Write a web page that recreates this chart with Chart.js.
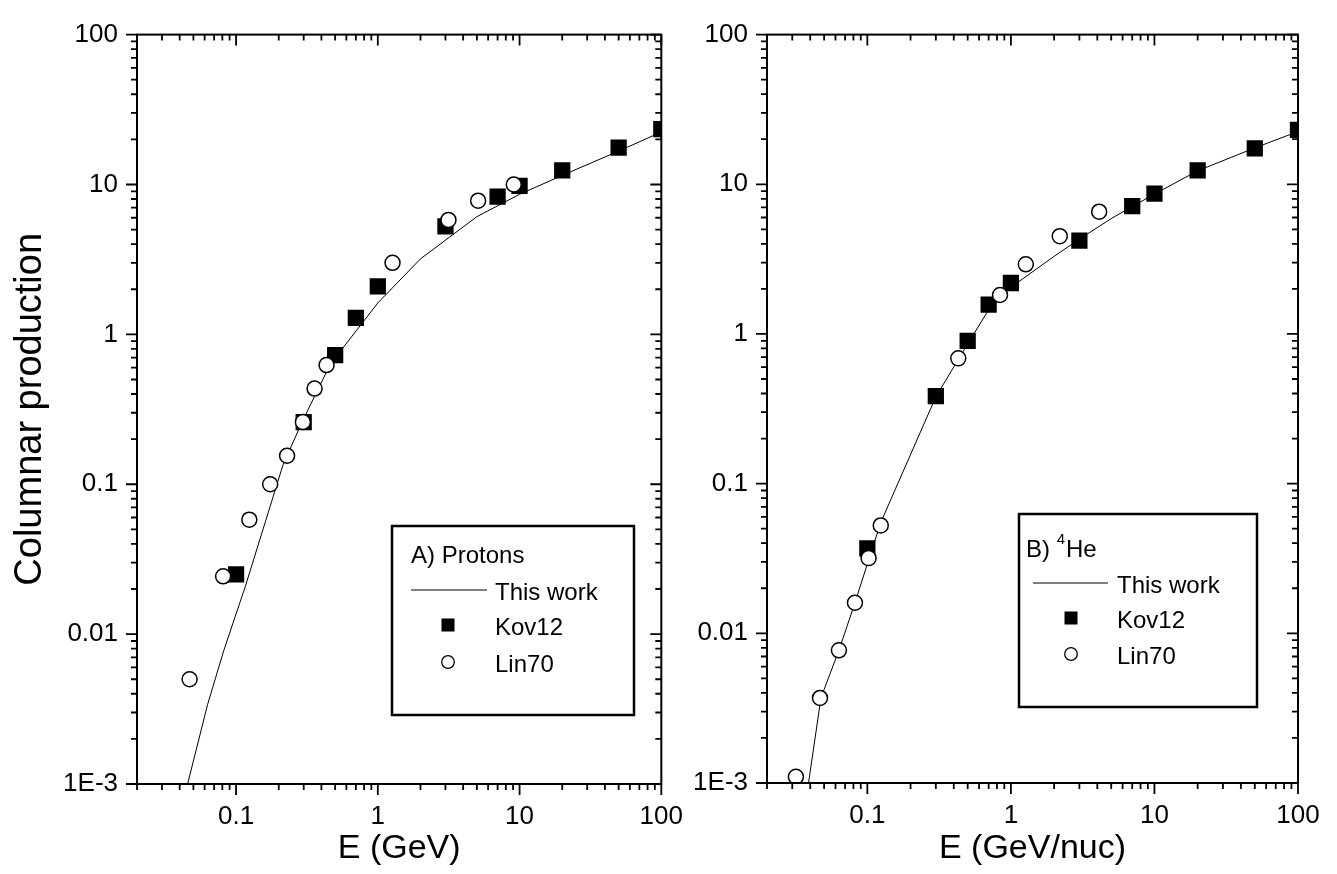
<!DOCTYPE html>
<html>
<head>
<meta charset="utf-8">
<title>Columnar production</title>
<script src="https://cdn.jsdelivr.net/npm/chart.js@4.4.1/dist/chart.umd.min.js"></script>
<style>
  html, body { margin: 0; padding: 0; background: #fff; }
  #wrap { position: relative; width: 1337px; height: 874px; overflow: hidden; }
  canvas { position: absolute; top: 0; }
  #left { left: 0; }
  #right { left: 670px; }
</style>
</head>
<body>
<div id="wrap">
  <canvas id="left" width="700" height="874"></canvas>
  <canvas id="right" width="667" height="874"></canvas>
</div>
<script>
// values
const xTickValues = [0.1, 1, 10, 100];
const xTickLabels = ['0.1', '1', '10', '100'];
const yTickValues = [0.001, 0.01, 0.1, 1, 10, 100];
const yTickLabels = ['1E-3', '0.01', '0.1', '1', '10', '100'];

// A) protons
const pModelE = [0.04, 0.0455, 0.063, 0.082, 0.116, 0.214, 0.292, 0.463, 1, 2, 5, 10, 20, 50, 100];
const pModelV = [0.0006, 0.001, 0.0034, 0.0078, 0.0207, 0.134, 0.26, 0.634, 1.62, 3.19, 6.1, 8.6, 11.5, 16.7, 22.4];
const pKovE = [0.1, 0.3, 0.5, 0.7, 1, 3, 7, 10, 20, 50, 100];
const pKovV = [0.025, 0.26, 0.726, 1.29, 2.09, 5.25, 8.3, 9.8, 12.4, 17.6, 23.4];
const pLinE = [0.047, 0.081, 0.124, 0.174, 0.229, 0.296, 0.358, 0.435, 1.27, 3.15, 5.1, 9.1];
const pLinV = [0.005, 0.0243, 0.058, 0.1, 0.155, 0.26, 0.435, 0.624, 3.0, 5.8, 7.8, 10];

// B) 4He
const hModelE = [0.03, 0.0475, 0.0634, 0.082, 0.1, 0.124, 0.3, 0.5, 0.7, 1, 2, 3, 5, 7, 10, 20, 50, 100];
const hModelV = [0.00018, 0.0037, 0.0077, 0.016, 0.029, 0.055, 0.38, 0.86, 1.45, 2.05, 3.3, 4.3, 5.9, 7.1, 8.6, 12.3, 17.5, 22.5];
const hKovE = [0.1, 0.3, 0.5, 0.7, 1, 3, 7, 10, 20, 50, 100];
const hKovV = [0.037, 0.385, 0.9, 1.57, 2.19, 4.2, 7.15, 8.65, 12.4, 17.4, 23.1];
const hLinE = [0.0318, 0.0468, 0.0634, 0.082, 0.102, 0.124, 0.43, 0.84, 1.27, 2.19, 4.12];
const hLinV = [0.0011, 0.0037, 0.0077, 0.016, 0.0318, 0.0526, 0.687, 1.82, 2.92, 4.5, 6.56];

const FONT = "'Liberation Sans', Arial, sans-serif";
Chart.defaults.font.family = FONT;
Chart.defaults.color = '#000';

function toXY(xs, ys) {
    return xs.map((x, i) => ({ x: x, y: ys[i] }));
}

function labelFor(v, values, labels) {
    const i = values.findIndex(t => Math.abs(Math.log10(t) - Math.log10(v)) < 1e-6);
    return i < 0 ? '' : labels[i];
}

// all 1..9 x 10^n values inside [min, max]
function logTicks(min, max) {
    const out = [];
    for (let e = Math.floor(Math.log10(min)); e <= Math.ceil(Math.log10(max)); e++) {
        for (let k = 1; k <= 9; k++) {
            const v = k * Math.pow(10, e);
            if (v >= min * 0.999 && v <= max * 1.001) out.push({ v: v, major: k === 1 });
        }
    }
    return out;
}

// frame with ticks out on left/bottom, in on top/right
const framePlugin = {
    id: 'frame',
    afterDatasetsDraw(chart) {
        const { ctx, chartArea: a } = chart;
        const x = chart.scales.x, y = chart.scales.y;
        ctx.save();
        ctx.strokeStyle = '#000';
        ctx.lineWidth = 1.8;
        ctx.beginPath();
        logTicks(x.min, x.max).forEach(t => {
            const px = x.getPixelForValue(t.v);
            const len = t.major ? 11 : 6;
            ctx.moveTo(px, a.bottom); ctx.lineTo(px, a.bottom + len);
            ctx.moveTo(px, a.top); ctx.lineTo(px, a.top + len);
        });
        logTicks(y.min, y.max).forEach(t => {
            const py = y.getPixelForValue(t.v);
            const len = t.major ? 11 : 6;
            ctx.moveTo(a.left, py); ctx.lineTo(a.left - len, py);
            ctx.moveTo(a.right, py); ctx.lineTo(a.right - len, py);
        });
        ctx.stroke();
        ctx.lineWidth = 2;
        ctx.strokeRect(a.left, a.top, a.right - a.left, a.bottom - a.top);
        ctx.restore();
    }
};

// boxed legend like the original
function legendPlugin(L) {
    return {
        id: 'boxLegend',
        afterDraw(chart) {
            const ctx = chart.ctx;
            const ds = chart.data.datasets;
            ctx.save();
            ctx.strokeStyle = '#000';
            ctx.fillStyle = '#000';
            ctx.lineWidth = 2.5;
            ctx.strokeRect(L.x, L.y, L.w, L.h);
            ctx.textBaseline = 'alphabetic';
            ctx.textAlign = 'left';
            ctx.font = '24px ' + FONT;
            // title, with optional superscript
            let tx = L.titleX;
            ctx.fillText(L.title, tx, L.titleY);
            if (L.sup) {
                tx += ctx.measureText(L.title + ' ').width;
                ctx.font = '15px ' + FONT;
                ctx.fillText(L.sup, tx, L.titleY - 13);
                tx += ctx.measureText(L.sup).width + 1;
                ctx.font = '24px ' + FONT;
                ctx.fillText(L.after, tx, L.titleY);
            }
            // rows: line, squares, circles
            const rows = [ds[2], ds[1], ds[0]];
            rows.forEach((d, i) => {
                const by = L.rowY[i];
                const cy = by - 10;
                if (d.showLine) {
                    ctx.lineWidth = 1;
                    ctx.beginPath();
                    ctx.moveTo(L.lineX0, cy);
                    ctx.lineTo(L.lineX1, cy);
                    ctx.stroke();
                } else if (d.pointStyle === 'rect') {
                    ctx.fillRect(L.symX - 6.5, cy - 6.5, 13, 13);
                } else {
                    ctx.beginPath();
                    ctx.arc(L.symX, cy, 6.3, 0, Math.PI * 2);
                    ctx.fillStyle = '#fff';
                    ctx.fill();
                    ctx.lineWidth = 1.3;
                    ctx.stroke();
                    ctx.fillStyle = '#000';
                }
                ctx.fillText(d.label, L.textX, by);
            });
            ctx.restore();
        }
    };
}

function makeChart(id, cfg) {
    return new Chart(document.getElementById(id), {
        type: 'scatter',
        data: {
            datasets: [
                {
                    label: 'Lin70',
                    data: toXY(cfg.linE, cfg.linV),
                    pointStyle: 'circle',
                    pointRadius: 7.5,
                    pointBackgroundColor: '#fff',
                    pointBorderColor: '#000',
                    pointBorderWidth: 1.5,
                    clip: 0
                },
                {
                    label: 'Kov12',
                    data: toXY(cfg.kovE, cfg.kovV),
                    pointStyle: 'rect',
                    pointRadius: 11.5,
                    pointBackgroundColor: '#000',
                    pointBorderColor: '#000',
                    pointBorderWidth: 0,
                    clip: 0
                },
                {
                    label: 'This work',
                    data: toXY(cfg.modelE, cfg.modelV),
                    showLine: true,
                    borderColor: '#000',
                    borderWidth: 1,
                    pointRadius: 0,
                    tension: 0,
                    clip: 0
                }
            ]
        },
        options: {
            responsive: false,
            animation: false,
            devicePixelRatio: 1,
            events: [],
            layout: { padding: cfg.padding },
            plugins: { legend: { display: false }, tooltip: { enabled: false } },
            scales: {
                x: {
                    type: 'logarithmic',
                    min: 0.02,
                    max: 100,
                    grid: { display: false, drawTicks: false },
                    border: { display: false },
                    afterBuildTicks: s => { s.ticks = xTickValues.map(v => ({ value: v })); },
                    afterFit: s => { s.height = cfg.xAxisHeight; },
                    ticks: {
                        autoSkip: false,
                        maxRotation: 0,
                        padding: 17,
                        color: '#000',
                        font: { size: 26 },
                        callback: v => labelFor(v, xTickValues, xTickLabels)
                    },
                    title: {
                        display: true,
                        text: cfg.xTitle,
                        color: '#000',
                        font: { size: 34 },
                        padding: { top: 0, bottom: 5 }
                    }
                },
                y: {
                    type: 'logarithmic',
                    min: 0.001,
                    max: 100,
                    grid: { display: false, drawTicks: false },
                    border: { display: false },
                    afterBuildTicks: s => { s.ticks = yTickValues.map(v => ({ value: v })); },
                    afterFit: s => { s.width = cfg.yAxisWidth; },
                    ticks: {
                        autoSkip: false,
                        padding: 19,
                        color: '#000',
                        font: { size: 26 },
                        callback: v => labelFor(v, yTickValues, yTickLabels)
                    },
                    title: {
                        display: !!cfg.yTitle,
                        text: cfg.yTitle || '',
                        color: '#000',
                        font: { size: 38 },
                        padding: { top: 8, bottom: 0 }
                    }
                }
            }
        },
        plugins: [framePlugin, legendPlugin(cfg.legend)]
    });
}

makeChart('left', {
    modelE: pModelE, modelV: pModelV,
    kovE: pKovE, kovV: pKovV,
    linE: pLinE, linV: pLinV,
    xTitle: 'E (GeV)',
    yTitle: 'Columnar production',
    padding: { left: 0, top: 22, right: 32, bottom: 0 },
    yAxisWidth: 137,
    xAxisHeight: 90,
    legend: {
        x: 392, y: 526, w: 242, h: 189,
        title: 'A) Protons', titleX: 411, titleY: 563,
        lineX0: 411, lineX1: 487, textX: 495, symX: 448,
        rowY: [600, 635, 672]
    }
});

makeChart('right', {
    modelE: hModelE, modelV: hModelV,
    kovE: hKovE, kovV: hKovV,
    linE: hLinE, linV: hLinV,
    xTitle: 'E (GeV/nuc)',
    padding: { left: 0, top: 23, right: 39, bottom: 0 },
    yAxisWidth: 97,
    xAxisHeight: 91,
    legend: {
        x: 349, y: 514, w: 238, h: 193,
        title: 'B)', sup: '4', after: 'He', titleX: 356, titleY: 557,
        lineX0: 363, lineX1: 438, textX: 447, symX: 401,
        rowY: [593, 628, 664]
    }
});
</script>
</body>
</html>
